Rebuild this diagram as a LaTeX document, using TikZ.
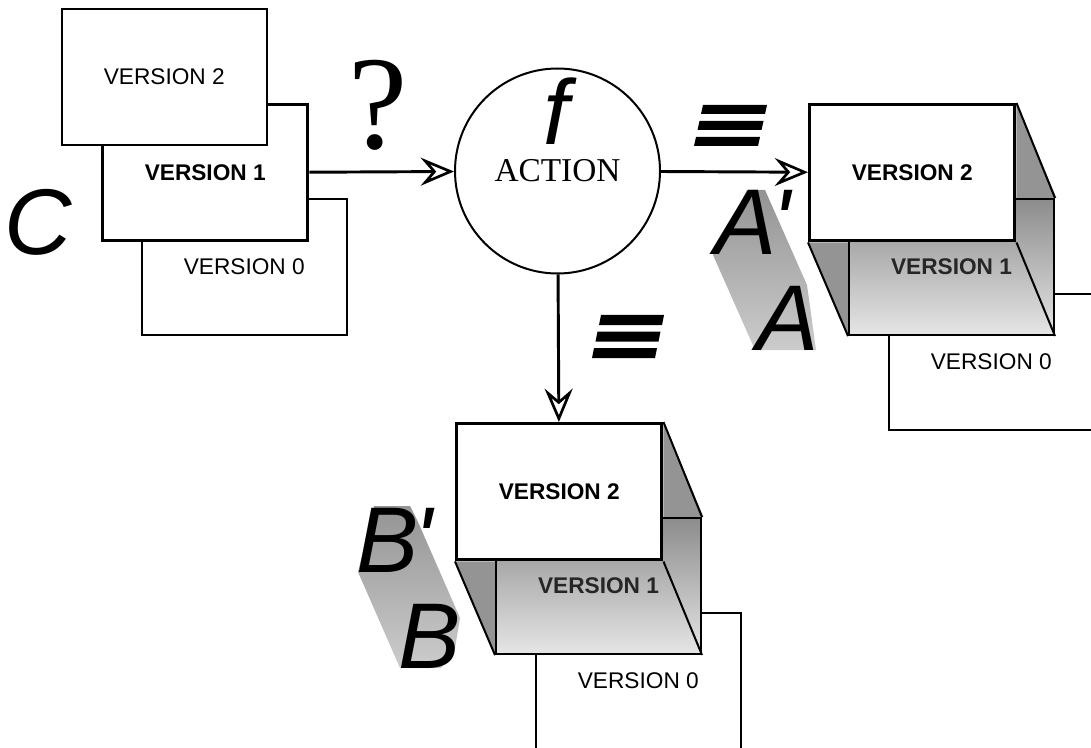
\documentclass[tikz,border=0pt]{standalone}
\usepackage{fontspec}
\setmainfont{Liberation Sans}
\newfontfamily\timesface{Liberation Serif}
\usetikzlibrary{arrows.meta,backgrounds,positioning}

\newcommand\versize{\fontsize{17}{20}\selectfont}

\tikzset{
  version/.style={draw, fill=white, line width=1.2pt, inner sep=0pt, anchor=north west,
    minimum width=153.75pt, minimum height=102pt, font=\versize},
  current/.style={version, line width=2.6pt, font=\versize\bfseries},
  hidden/.style={version, line width=1.5pt, top color=black!45, bottom color=black!10,
    font=\versize\bfseries, text=black!85},
  edge3d/.style={line width=1.5pt},
  face/.style={fill=black!42},
  trail/.style={top color=black!42, bottom color=black!20},
  flow/.style={line width=2.2pt, -{Stealth[open, length=25pt, width=21pt, inset=9pt, line width=2pt]}},
  letter/.style={inner sep=0pt, anchor=base west, font=\fontsize{70}{70}\selectfont\itshape},
  bar/.style={fill=black},
}

\begin{document}
\begin{tikzpicture}[x=0.75pt,y=0.75pt,yscale=-1]
\useasboundingbox (0,0) rectangle (1091,748);

% Stack C
\node[version] (C0) at (141,198) {VERSION 0};
\node[current] (C1) at (101,103) {VERSION 1};
\node[version] (C2) at (61,8) {VERSION 2};
\node[letter] (lc) at (4,255) {C};

% Action circle
\node[draw, circle, line width=1.5pt, minimum size=153.75pt, inner sep=0pt,
  font=\timesface\fontsize{25}{25}\selectfont] (act) at (557.5,171) {ACTION};
\node[inner sep=0pt, font=\fontsize{69}{69}\selectfont\itshape] (fn) at (556,111) {f};
\node[inner sep=0pt, font=\timesface\fontsize{100}{100}\selectfont] (qm) at (378,105) {?};

% Stack A
\node[current] (A2) at (808,103) {VERSION 2};
\begin{scope}[on background layer]
\node[version] (A0) at (888,293) {VERSION 0};
\fill[face] (A2.north east) -- ++(40,95) -- ++(-40,0) -- cycle;
\fill[face] (A2.south west) -- ++(40,95) -- ++(0,-95) -- cycle;
\node[hidden, text depth=-6pt] (A1) at (848,198) {VERSION 1};
\draw[edge3d] (A2.north east) -- (A1.north east)
  (A2.south east) -- (A1.south east)
  (A2.south west) -- (A1.south west);
\end{scope}
%Shape: trail A' to A
\shade[trail] (747,190) -- (765,190) -- (807,285) -- (816,350) -- (755,350) -- (713,255) -- cycle;
\node[letter] (ap) at (714,255) {A\kern-3pt\textquotesingle};
\node[letter] (aa) at (756,350) {A};

% Stack B
\node[current] (B2) at (455,422) {VERSION 2};
\begin{scope}[on background layer]
\node[version] (B0) at (535,612) {VERSION 0};
\fill[face] (B2.north east) -- ++(40,95) -- ++(-40,0) -- cycle;
\fill[face] (B2.south west) -- ++(40,95) -- ++(0,-95) -- cycle;
\node[hidden] (B1) at (495,517) {VERSION 1};
\draw[edge3d] (B2.north east) -- (B1.north east)
  (B2.south east) -- (B1.south east)
  (B2.south west) -- (B1.south west);
\end{scope}
%Shape: trail B' to B
\shade[trail] (374,506) -- (410,506) -- (418,522) -- (460,618) -- (455,648) -- (441,668) -- (400,668) -- (358,572) -- cycle;
\node[letter] (bp) at (356,572) {B\kern-3pt\textquotesingle};
\node[letter] (bb) at (398,668) {B};

% Arrows
\draw[flow] (C1) -- (act);
\draw[flow] (act) -- (A2);
\draw[flow] (act) -- (B2);

%Shape: equivalence bars
\foreach \i in {0,1,2}{
  \fill[bar] (703-3.5*\i,105+16*\i) -- ++(64,0) -- ++(-2,9) -- ++(-64,0) -- cycle;
  \fill[bar] (601-3.5*\i,315+16.5*\i) -- ++(63,0) -- ++(-2,10) -- ++(-63,0) -- cycle;
}

\end{tikzpicture}
\end{document}
